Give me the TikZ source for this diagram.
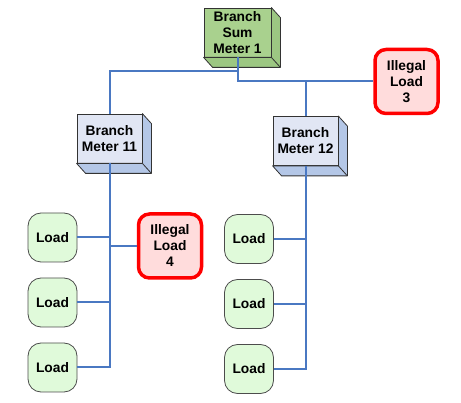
\documentclass[tikz,border=0pt]{standalone}
\usepackage{fontspec}
\setmainfont{Liberation Sans}
\usepackage{tikz}
\usetikzlibrary{calc}
\definecolor{wire}{HTML}{4A78C2}
\definecolor{sumfront}{HTML}{A9D18E}
\definecolor{sumside}{HTML}{9CC782}
\definecolor{meterfront}{HTML}{E1E6F4}
\definecolor{meterside}{HTML}{B4C7E7}
\definecolor{loadfill}{HTML}{E0FADA}
\definecolor{illfill}{HTML}{FFDCDC}
\tikzset{
	% Meters are drawn as boxes, loads as rounded squares
	meter node/.style={draw=black!80,line width=0.8pt,minimum width=65pt,minimum height=49pt,inner sep=0pt,align=center,fill=meterfront},
	load node/.style={draw=black!70,line width=0.8pt,rounded corners=13pt,minimum width=49pt,minimum height=49pt,inner sep=0pt,align=center,fill=loadfill},
	illegal node/.style={draw=red,line width=3.5pt,rounded corners=11pt,minimum width=63pt,minimum height=64pt,inner sep=0pt,align=center,fill=illfill},
	wire line/.style={draw=wire,line width=2pt}
}

\begin{document}
\begin{tikzpicture}[x=1pt,y=-1pt,font=\fontsize{13.8}{16}\selectfont\bfseries]
	% macro for the depth of a meter box
	\newcommand{\cubeside}[2][meterside]{
		\filldraw[fill=#1,draw=black!80,line width=0.8pt,line join=round]
			(#2.north east)--($(#2.north east)+(9,10)$)--($(#2.south east)+(9,10)$)--($(#2.south west)+(9,10)$)--(#2.south west)--(#2.south east)--cycle;
		\draw[black!80,line width=0.8pt]($(#2.south east)+(9,10)$)--(#2.south east);
	}
	\useasboundingbox (0,0) rectangle (461,403);

	% meters
	\node(sum)[meter node,minimum width=67pt,fill=sumfront] at (237.5,32.5){Branch\\Sum\\Meter 1};
	\cubeside[sumside]{sum}
	\node(m-11)[meter node] at (109.5,138.5){Branch\\Meter 11};
	\cubeside{m-11}
	\node(m-12)[meter node] at (305.5,141){Branch\\Meter 12};
	\cubeside{m-12}

	% loads
	\node(ill-3)[illegal node] at (406.5,81.5){Illegal\\Load\\3};
	\node(ill-4)[illegal node] at (170,246){Illegal\\Load\\4};
	\node(l-11-1)[load node] at (52.5,237.5){Load};
	\node(l-11-2)[load node] at (52.5,302.5){Load};
	\node(l-11-3)[load node] at (52.5,367.5){Load};
	\node(l-12-1)[load node] at (249,239){Load};
	\node(l-12-2)[load node] at (249,304){Load};
	\node(l-12-3)[load node] at (249,369){Load};

	% wiring
	\coordinate(j-0) at ($(sum.south)+(0,14)$);
	\draw[wire line](m-11.north)--(m-11.north |- j-0)--(j-0)--(sum.south);
	\draw[wire line](sum.south)--(sum.south |- ill-3.west)--(ill-3.west);
	\draw[wire line](m-12.north)--(m-12.north |- ill-3.west);

	\draw[wire line](m-11.south)--(m-11.south |- l-11-3.east)--(l-11-3.east);
	\draw[wire line](l-11-1.east)--(l-11-1.east -| m-11.south);
	\draw[wire line](l-11-2.east)--(l-11-2.east -| m-11.south);
	\draw[wire line](ill-4.west)--(ill-4.west -| m-11.south);

	\draw[wire line](m-12.south)--(m-12.south |- l-12-3.east)--(l-12-3.east);
	\draw[wire line](l-12-1.east)--(l-12-1.east -| m-12.south);
	\draw[wire line](l-12-2.east)--(l-12-2.east -| m-12.south);
\end{tikzpicture}
\end{document}
